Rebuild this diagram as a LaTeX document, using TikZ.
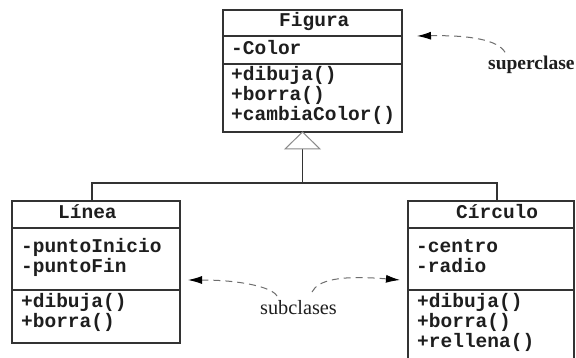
\documentclass[tikz,border=0pt]{standalone}
\usepackage{fontspec}
\setmainfont{Liberation Serif}
\newfontfamily\umlfont{Liberation Mono}
\usetikzlibrary{arrows.meta}

\definecolor{boxline}{HTML}{333333}
\definecolor{ink}{HTML}{1E1E1E}
\definecolor{dashgray}{HTML}{6E6E6E}
\definecolor{trigray}{HTML}{8A8A8A}

\tikzset{
  compart/.style 2 args={draw=boxline, line width=1.3pt, anchor=north west,
    inner sep=0pt, outer sep=0pt, minimum width=#1, minimum height=#2},
  member/.style={anchor=base west, inner sep=0pt, align=left, text width=165pt,
    text=ink, font=\umlfont\bfseries\fontsize{19.5pt}{20pt}\selectfont},
  note/.style={anchor=base west, inner sep=0pt, text=ink},
  conn/.style={draw=boxline, line width=1.3pt},
  hollowtri/.style={draw=trigray, line width=1pt, fill=white, line join=miter},
  dasharrow/.style={draw=dashgray, line width=1pt, dash pattern=on 7pt off 5pt,
    -{Latex[length=14pt,width=8pt,color=black]}}
}

\begin{document}
\begin{tikzpicture}[x=1pt,y=-1pt]
\clip (0,0) rectangle (576,358);
\fill[white] (0,0) rectangle (576,358);

% class Figura
\node[compart={179pt}{26pt}] (fig-title) at (223,10) {};
\node[compart={179pt}{28pt}] (fig-attr) at (fig-title.south west) {};
\node[compart={179pt}{68pt}] (fig-meth) at (fig-attr.south west) {};
\node[member] (fig-title-t) at ([xshift=56pt,yshift=-17pt]fig-title.north west) {Figura};
\node[member] (fig-attr-t) at ([xshift=8pt,yshift=-19pt]fig-attr.north west) {-Color};
\node[member] (fig-meth-t) at ([xshift=8pt,yshift=-17pt]fig-meth.north west)
  {+dibuja()\\+borra()\\+cambiaColor()};

% class Línea
\node[compart={168pt}{27pt}] (lin-title) at (12,201) {};
\node[compart={168pt}{62pt}] (lin-attr) at (lin-title.south west) {};
\node[compart={168pt}{53pt}] (lin-meth) at (lin-attr.south west) {};
\node[member] (lin-title-t) at ([xshift=46pt,yshift=-18pt]lin-title.north west) {Línea};
\node[member] (lin-attr-t) at ([xshift=9pt,yshift=-25pt]lin-attr.north west)
  {-puntoInicio\\-puntoFin};
\node[member] (lin-meth-t) at ([xshift=9pt,yshift=-18pt]lin-meth.north west)
  {+dibuja()\\+borra()};

% class Círculo
\node[compart={166pt}{27pt}] (cir-title) at (408,201) {};
\node[compart={166pt}{62pt}] (cir-attr) at (cir-title.south west) {};
\node[compart={166pt}{80pt}] (cir-meth) at (cir-attr.south west) {};
\node[member] (cir-title-t) at ([xshift=48pt,yshift=-18pt]cir-title.north west) {Círculo};
\node[member] (cir-attr-t) at ([xshift=8pt,yshift=-25pt]cir-attr.north west)
  {-centro\\-radio};
\node[member] (cir-meth-t) at ([xshift=9pt,yshift=-18pt]cir-meth.north west)
  {+dibuja()\\+borra()\\+rellena()};

% generalization: hollow triangle and the shared bus
\coordinate (gen-apex) at ([xshift=79.5pt]fig-meth.south west);
\coordinate (gen-base) at ([yshift=-17pt]gen-apex);
\coordinate (bus) at (302.5,183);
\draw[conn] (gen-base) -- (bus);
\draw[conn] (bus) -| ([xshift=80pt]lin-title.north west);
\draw[conn] (bus) -| ([xshift=89pt]cir-title.north west);
\draw[hollowtri] (gen-apex) -- ++(-17.5,17) -- ++(35,0) -- cycle;

% annotations
\node[note, font=\bfseries\fontsize{19.5pt}{22pt}\selectfont] (sup) at (488,70) {superclase};
\node[note, font=\fontsize{20.3pt}{22pt}\selectfont] (sub) at (260,315) {subclases};

\coordinate (sup-tip) at (417,36);
\coordinate (lin-tip) at (188,280);
\coordinate (cir-tip) at (400,280);
\draw[dasharrow] ([xshift=17pt,yshift=4pt]sup.north west)
  .. controls (498,40) and (470,35) .. (sup-tip);
\draw[dasharrow] ([xshift=17pt,yshift=4.7pt]sub.north west)
  .. controls (272,287) and (240,280) .. (lin-tip);
\draw[dasharrow] ([xshift=52pt,yshift=8.7pt]sub.north west)
  .. controls (318,280) and (340,275) .. (cir-tip);
\end{tikzpicture}
\end{document}
